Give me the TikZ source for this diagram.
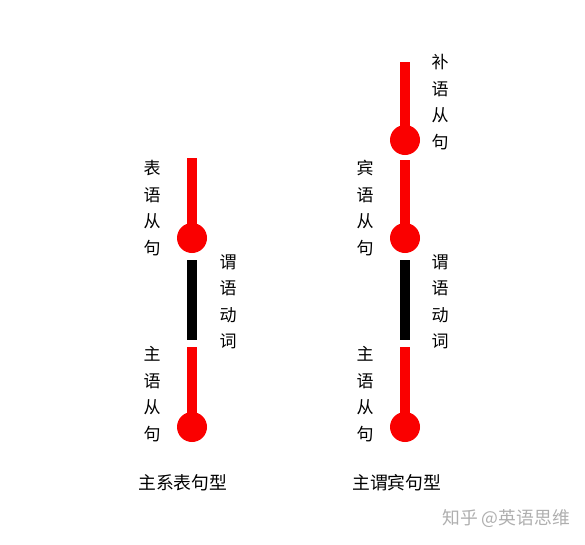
\documentclass[tikz,border=0pt]{standalone}
\usepackage{fontspec}
\newfontfamily\cjk{Noto Sans CJK SC}
\definecolor{barred}{RGB}{250,0,0}
\definecolor{wmgrey}{RGB}{175,175,175}
\begin{document}
\begin{tikzpicture}[x=1pt,y=-1pt,
  redbar/.style={draw=barred,line width=10pt,line cap=butt},
  blackbar/.style={draw=black,line width=10pt,line cap=butt},
  ball/.style={circle,fill=barred,minimum size=30pt,inner sep=0pt},
  vlabel/.style={font=\cjk\fontsize{17}{26.5}\selectfont,align=center,inner sep=0pt,text width=18pt},
  caption/.style={font=\cjk\fontsize{17.8}{20}\selectfont,inner sep=0pt,anchor=west},
  wmark/.style={font=\cjk\fontsize{17.8}{20}\selectfont,inner sep=0pt,anchor=west,text=wmgrey}]
\useasboundingbox (0,0) rectangle (585,544);
% ---- left column ----
\coordinate (L1top) at (192,158);
\node[ball] (L1ball) at (192,238) {};
\coordinate (Lbtop) at (192,260);
\coordinate (Lbbot) at (192,340);
\coordinate (L2top) at (192,347);
\node[ball] (L2ball) at (192,427) {};
\draw[redbar] (L1top) -- (L1ball.center);
\draw[blackbar] (Lbtop) -- (Lbbot);
\draw[redbar] (L2top) -- (L2ball.center);
\node[vlabel] (Lbiao) at (152,208) {表\\语\\从\\句};
\node[vlabel] (Lwei) at (228,302) {谓\\语\\动\\词};
\node[vlabel] (Lzhu) at (152,394) {主\\语\\从\\句};
\node[caption] (Lcap) at (138,483) {主系表句型};
% ---- right column ----
\coordinate (R0top) at (405,62);
\node[ball] (R0ball) at (405,140) {};
\coordinate (R1top) at (405,160);
\node[ball] (R1ball) at (405,238) {};
\coordinate (Rbtop) at (405,260);
\coordinate (Rbbot) at (405,340);
\coordinate (R2top) at (405,347);
\node[ball] (R2ball) at (405,427) {};
\draw[redbar] (R0top) -- (R0ball.center);
\draw[redbar] (R1top) -- (R1ball.center);
\draw[blackbar] (Rbtop) -- (Rbbot);
\draw[redbar] (R2top) -- (R2ball.center);
\node[vlabel] (Rbu) at (440,102) {补\\语\\从\\句};
\node[vlabel] (Rbin) at (365,208) {宾\\语\\从\\句};
\node[vlabel] (Rwei) at (440,302) {谓\\语\\动\\词};
\node[vlabel] (Rzhu) at (365,394) {主\\语\\从\\句};
\node[caption] (Rcap) at (352,483) {主谓宾句型};
\node[wmark] (wm) at (442,519) {知乎 @英语思维};
\end{tikzpicture}
\end{document}
